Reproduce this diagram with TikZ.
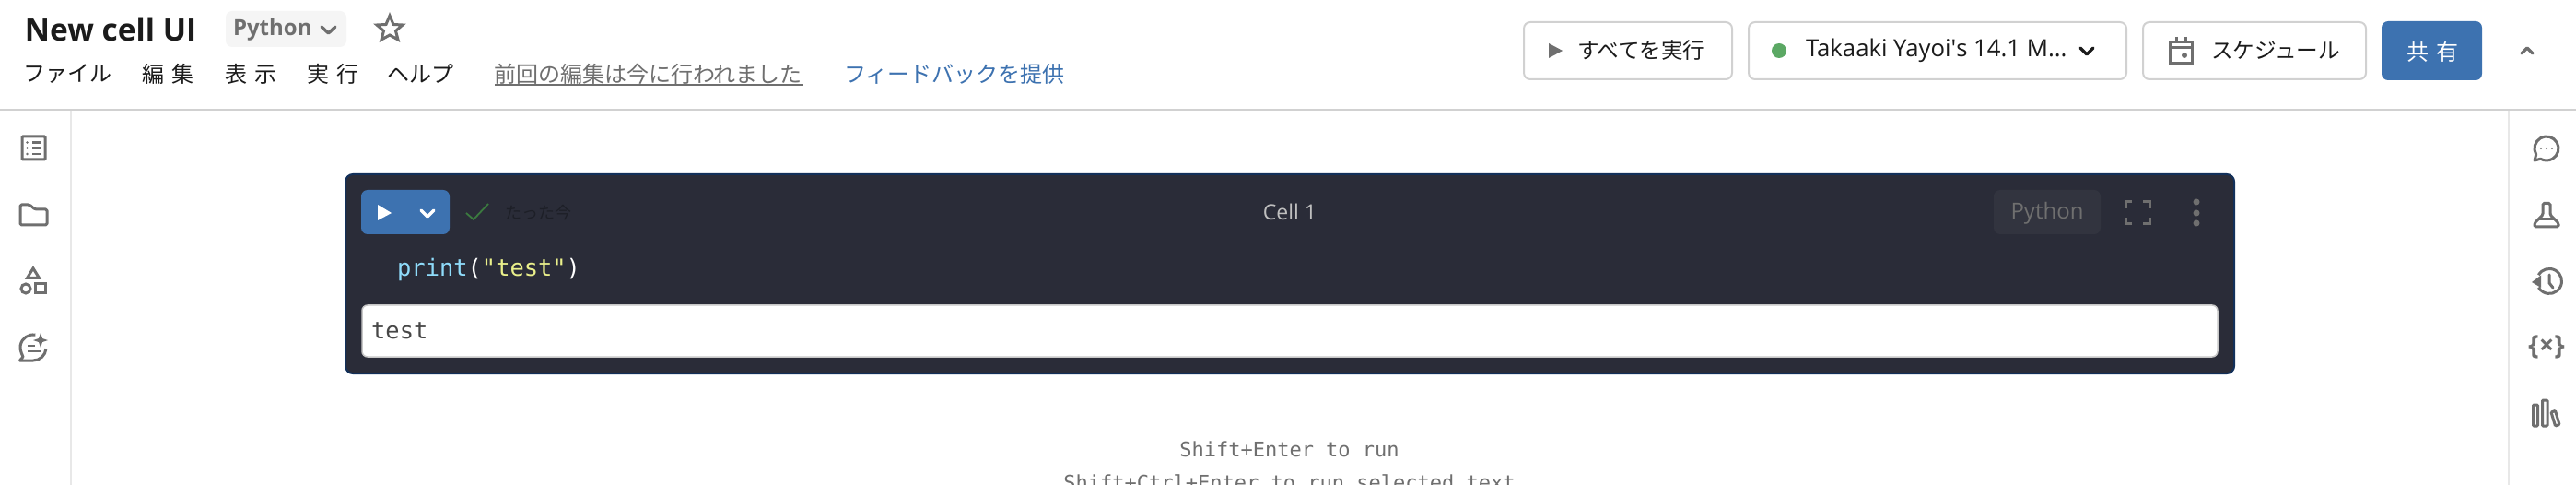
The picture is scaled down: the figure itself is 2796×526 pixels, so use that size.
\documentclass[tikz,border=0pt]{standalone}
\usepackage{fontspec}
\setmainfont{Open Sans}
\setmonofont{DejaVu Sans Mono}
\newfontfamily\jpfont{Noto Sans CJK JP}
\newfontfamily\jpwide[LetterSpace=37]{Noto Sans CJK JP}
\definecolor{iconGray}{HTML}{6F6F6F}
\definecolor{lineGray}{HTML}{D1D1D1}
\definecolor{sideGray}{HTML}{E8E8E8}
\definecolor{inkBlack}{HTML}{1B1B1B}
\definecolor{shareBlue}{HTML}{3D72B0}
\definecolor{okGreen}{HTML}{5BA864}
\definecolor{checkGreen}{HTML}{3B7A3F}
\definecolor{cellDark}{HTML}{2A2C38}
\definecolor{cellEdge}{HTML}{12305A}
\definecolor{pillDark}{HTML}{32343F}
\definecolor{codeCyan}{HTML}{8FDCFB}
\definecolor{codeYellow}{HTML}{EAF08B}
\tikzset{
  label/.style={inner sep=0pt, outer sep=0pt, anchor=west},
  menu/.style={label, text=inkBlack, font=\fontsize{24}{24}\selectfont\jpfont},
  menuwide/.style={label, text=inkBlack, font=\fontsize{24}{24}\selectfont\jpwide},
  button/.style={draw=lineGray, line width=2pt, fill=white, rounded corners=7pt},
  buttontext/.style={label, text=inkBlack, font=\fontsize{23.6}{24}\selectfont\jpfont},
  icon/.style={draw=iconGray, line width=3pt, fill=none},
  chevron/.style={line width=3.4pt, line cap=round, line join=round},
  hint/.style={inner sep=0pt, outer sep=0pt, text=iconGray, font=\fontsize{22}{22}\selectfont\ttfamily}
}
\begin{document}
\begin{tikzpicture}[x=1pt, y=-1pt]
    \useasboundingbox (0,0) rectangle (2796,526);
    \clip (0,0) rectangle (2796,526);
    \fill[white] (0,0) rectangle (2796,526);

    % header
    \node[label, text=inkBlack, font=\fontsize{33.5}{34}\selectfont\bfseries] (title) at (27,32) {New cell UI};
    \fill[black!4, rounded corners=7pt] (245,12) rectangle (376,51);
    \node[label, text=iconGray, font=\fontsize{24}{24}\selectfont\bfseries] (lang) at (253,32) {Python};
    \draw[iconGray, chevron] (349,29)--(356.5,36)--(364,29);
    \draw[icon, line join=miter] (423,17)--(427,26.5)--(437,27)--(429.5,33.5)--(432,43)--(423,38)--(414,43)--(416.5,33.5)--(409,27)--(419,26.5)--cycle;

    \node[menu] (file) at (25,80) {ファイル};
    \node[menuwide] (edit) at (154,80) {編集};
    \node[menuwide] (view) at (244,80) {表示};
    \node[menuwide] (run) at (333,80) {実行};
    \node[menu] (help) at (420,80) {ヘルプ};
    \node[menu, text=iconGray] (saved) at (536,80) {前回の編集は今に行われました};
    \draw[iconGray, line width=2pt] (537,92)--(872,92);
    \node[menu, text=shareBlue] (feedback) at (916,80) {フィードバックを提供};

    \filldraw[button] (1654,24) rectangle (1880,86);
    \fill[iconGray] (1681,47)--(1696,55)--(1681,63)--cycle;
    \node[buttontext] (runall) at (1712,55) {すべてを実行};

    \filldraw[button] (1898,24) rectangle (2308,86);
    \fill[okGreen] (1931,55) circle (8);
    \node[label, text=inkBlack, font=\fontsize{25.7}{26}\selectfont] (cluster) at (1960,55) {Takaaki Yayoi\textquotesingle s 14.1 M...};
    \draw[inkBlack, chevron] (2258,52)--(2265,59)--(2272,52);

    \filldraw[button] (2326,24) rectangle (2568,86);
    \draw[icon] (2355,46) rectangle (2379,69);
    \draw[icon] (2355,52)--(2379,52) (2362,40)--(2362,46) (2372,40)--(2372,46);
    \fill[iconGray] (2371,60) circle (3);
    \node[buttontext] (schedule) at (2400,55) {スケジュール};

    \fill[shareBlue, rounded corners=7pt] (2585,23) rectangle (2694,87);
    \node[label, text=white, font=\fontsize{24}{24}\selectfont\jpwide] (share) at (2612,56) {共有};
    \draw[iconGray, chevron] (2737,58)--(2743,52)--(2749,58);

    \draw[lineGray, line width=2pt] (0,119)--(2796,119);
    \draw[sideGray, line width=2pt] (77,120)--(77,526);
    \draw[sideGray, line width=2pt] (2723,120)--(2723,526);

    % left bar
    \draw[icon, rounded corners=1pt] (24,148) rectangle (49,173);
    \draw[iconGray, line width=2.5pt] (35,154.5)--(44,154.5) (35,160.5)--(44,160.5) (35,167)--(44,167);
    \fill[iconGray] (29.5,154.5) circle (1.4) (29.5,160.5) circle (1.4) (29.5,167) circle (1.4);

    \draw[icon, rounded corners=1.5pt, line join=round] (22,222)--(32,222)--(38,227)--(51,227)--(51,244)--(22,244)--cycle;

    \draw[icon, line join=miter] (36,291)--(42.5,301.5)--(29.5,301.5)--cycle;
    \draw[icon] (28,313) circle (5);
    \draw[icon] (38.5,307.5) rectangle (49,318);

    \draw[icon, line join=round] (38.4,363.2) arc (-80:-205:14)--(25,387)--(21.5,391)--(36,391) arc (90:5:14);
    \fill[iconGray] (44,361)--(46,367)--(52,369)--(46,371)--(44,377)--(42,371)--(36,369)--(42,367)--cycle;
    \draw[iconGray, line width=2.5pt] (30,375)--(38,375) (30,381)--(44,381);

    % right bar
    \draw[icon, line join=round] (2752.7,167.5) arc (150:480:13)--(2751,174)--cycle;
    \fill[iconGray] (2758,161) circle (1.2) (2764,161) circle (1.2) (2770,161) circle (1.2);

    \draw[icon, rounded corners=1.5pt] (2760,220.5)--(2768,220.5)--(2768,233)--(2777,242)--(2777,246)--(2751,246)--(2751,242)--(2760,233)--cycle;
    \draw[icon] (2756,238)--(2772,238);

    \draw[icon] (2755.3,298.2) arc (210:510:13.5);
    \fill[iconGray] (2748,306)--(2758,298.5)--(2758,312)--cycle;
    \draw[icon, line cap=round] (2767,298)--(2767,307)--(2771,312);

    \node[inner sep=0pt, outer sep=0pt, text=iconGray, font=\fontsize{29}{30}\selectfont\bfseries] (vars) at (2764,376) {\{×\}};

    \draw[icon, rounded corners=1pt] (2749.5,439) rectangle (2754.5,462);
    \draw[icon, rounded corners=1pt] (2759.5,434) rectangle (2765,462);
    \draw[icon, rounded corners=1pt] (2769,447)--(2773.5,445.5)--(2778,460.5)--(2773.5,462)--cycle;

    % cell
    \filldraw[fill=cellDark, draw=cellEdge, line width=2pt, rounded corners=8pt] (375,189) rectangle (2425,405);
    \fill[shareBlue, rounded corners=7pt] (392,206) rectangle (488,254);
    \fill[white] (410,222)--(425,231)--(410,239)--cycle;
    \draw[white, chevron] (457,228)--(464,235)--(471,228);
    \draw[checkGreen, line width=1.8pt] (506,231)--(514,238)--(530,221);
    \node[label, text=black!30!cellDark, font=\fontsize{18}{18}\selectfont\jpfont] (ago) at (548,231) {たった今};
    \node[inner sep=0pt, text=black!25, font=\fontsize{23}{23}\selectfont] (cellname) at (1400,230) {Cell 1};
    \fill[pillDark, rounded corners=7pt] (2164,206) rectangle (2280,254);
    \node[inner sep=0pt, text=iconGray, font=\fontsize{24}{24}\selectfont] (celllang) at (2222,231) {Python};
    \draw[iconGray, line width=3pt] (2307,226)--(2307,219)--(2314,219) (2326,219)--(2333,219)--(2333,226) (2333,236)--(2333,243)--(2326,243) (2314,243)--(2307,243)--(2307,236);
    \fill[iconGray] (2384,219) circle (3.5) (2384,231) circle (3.5) (2384,242) circle (3.5);

    \node[anchor=base west, inner sep=0pt, font=\fontsize{25.4}{25.4}\selectfont\ttfamily] (code) at (431,300) {\textcolor{codeCyan}{print}\textcolor{white}{(}\textcolor{codeYellow}{"test"}\textcolor{white}{)}};

    \filldraw[fill=white, draw=black!22, line width=1.5pt, rounded corners=6pt] (393,331) rectangle (2407,387);
    \node[anchor=base west, inner sep=0pt, text=black!72, font=\fontsize{25.4}{25.4}\selectfont\ttfamily] (output) at (403,367) {test};

    % keyboard hints
    \node[hint] (hintrun) at (1399.5,487) {Shift+Enter to run};
    \node[hint] (hintsel) at (1399.5,523) {Shift+Ctrl+Enter to run selected text};
\end{tikzpicture}
\end{document}
